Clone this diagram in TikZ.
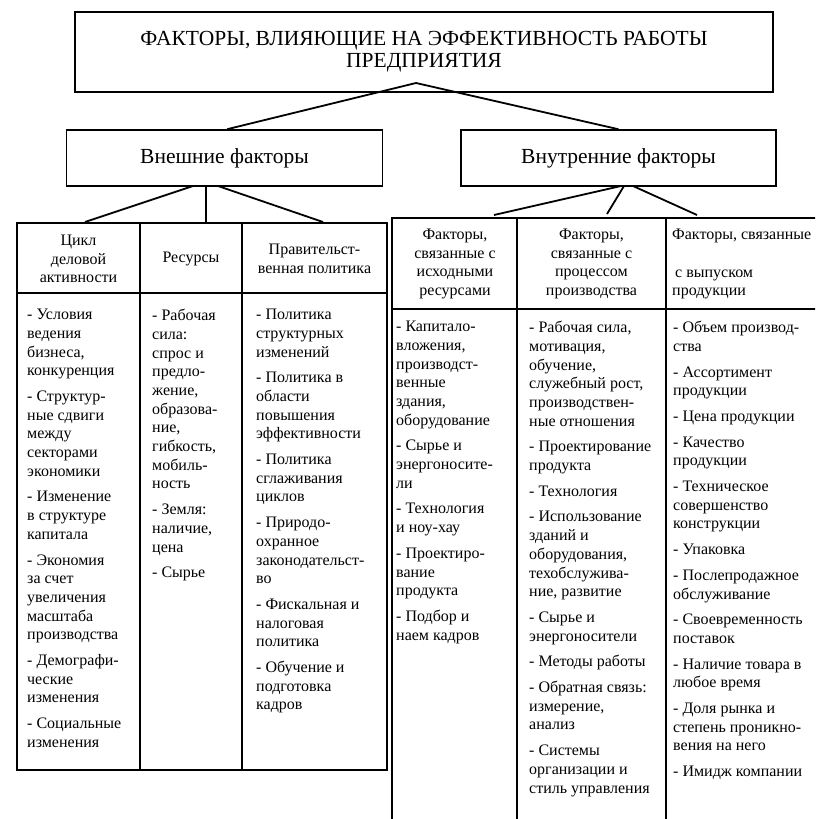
\documentclass[tikz,border=0pt]{standalone}
\usepackage{fontspec}
\setmainfont{Liberation Serif}
\begin{document}
\begin{tikzpicture}[x=1pt,y=-1pt,
  box/.style={draw,line width=1.5pt,inner sep=0pt,align=center,font=\fontsize{21.5}{22}\selectfont},
  conn/.style={line width=1.8pt},
  tline/.style={line width=1.7pt},
  body/.style={anchor=north west,inner sep=0pt,align=left,font=\fontsize{16}{18.7}\selectfont},
  head/.style={inner sep=0pt,align=center,font=\fontsize{16}{18.7}\selectfont}]
\useasboundingbox (0,0) rectangle (815,819);
\clip (0,0) rectangle (815,819);
% top boxes
\node[box,minimum width=698pt,minimum height=80pt] (title) at (424,52)
  {ФАКТОРЫ, ВЛИЯЮЩИЕ НА ЭФФЕКТИВНОСТЬ РАБОТЫ\\ПРЕДПРИЯТИЯ};
\node[box,minimum width=316pt,minimum height=56pt] (ext) at (224.5,158) {Внешние факторы};
\node[box,minimum width=315pt,minimum height=56pt] (int) at (618.5,158) {Внутренние факторы};
\coordinate (apex) at (416,83);
\draw[conn] (ext.north -| 227,0) -- (apex) -- (int.north);
% left table
\draw[tline] (17,223) rectangle (387,770);
\draw[tline] (140,223) -- (140,770) (242,223) -- (242,770) (17,293) -- (387,293);
\coordinate (la) at (85,222); \coordinate (lb) at (206,222); \coordinate (lc) at (323,222);
\draw[conn] (193,186) -- (la);
\draw[conn] (206,186) -- (lb);
\draw[conn] (218,186) -- (lc);
% right table
\draw[tline] (392,218) rectangle (840,850);
\draw[line width=1.4pt] (517,218) -- (517,850) (666,218) -- (666,850);
\draw[line width=1.2pt] (392,309) -- (840,309);
\coordinate (ra) at (494,215); \coordinate (rb) at (607,214); \coordinate (rc) at (697,215);
\draw[conn] (621,186) -- (ra);
\draw[conn] (624,186) -- (rb);
\draw[conn] (633,186) -- (rc);
% left headers
\node[head] (lh1) at (78.5,259) {Цикл\\деловой\\активности};
\node[head] (lh2) at (191,259) {Ресурсы};
\node[head] (lh3) at (314.5,259) {Правительст-\\венная политика};
% right headers
\node[head] (rh1) at (455,264) {Факторы,\\связанные с\\исходными\\ресурсами};
\node[head] (rh2) at (591.5,264) {Факторы,\\связанные с\\процессом\\производства};
\node[body] (rh3) at (672,229) {Факторы, связанные\\[18.7pt]\hspace*{3pt}с выпуском\\продукции};
% left body
\node[body] (lb1) at (27,309) {- Условия\\ведения\\бизнеса,\\конкуренция\\[7pt]
- Структур-\\ные сдвиги\\между\\секторами\\экономики\\[7pt]
- Изменение\\в структуре\\капитала\\[7pt]
- Экономия\\за счет\\увеличения\\масштаба\\производства\\[7pt]
- Демографи-\\ческие\\изменения\\[7pt]
- Социальные\\изменения};
\node[body] (lb2) at (152,309) {- Рабочая\\сила:\\спрос и\\предло-\\жение,\\образова-\\ние,\\гибкость,\\мобиль-\\ность\\[7pt]
- Земля:\\наличие,\\цена\\[7pt]
- Сырье};
\node[body] (lb3) at (256,309) {- Политика\\структурных\\изменений\\[7pt]
- Политика в\\области\\повышения\\эффективности\\[7pt]
- Политика\\сглаживания\\циклов\\[7pt]
- Природо-\\охранное\\законодательст-\\во\\[7pt]
- Фискальная и\\налоговая\\политика\\[7pt]
- Обучение и\\подготовка\\кадров};
% right body
\node[body] (rb1) at (396,321) {- Капитало-\\вложения,\\производст-\\венные\\здания,\\оборудование\\[7pt]
- Сырье и\\энергоносите-\\ли\\[7pt]
- Технология\\и ноу-хау\\[7pt]
- Проектиро-\\вание\\продукта\\[7pt]
- Подбор и\\наем кадров};
\node[body] (rb2) at (529,321) {- Рабочая сила,\\мотивация,\\обучение,\\служебный рост,\\производствен-\\ные отношения\\[7pt]
- Проектирование\\продукта\\[7pt]
- Технология\\[7pt]
- Использование\\зданий и\\оборудования,\\техобслужива-\\ние, развитие\\[7pt]
- Сырье и\\энергоносители\\[7pt]
- Методы работы\\[7pt]
- Обратная связь:\\измерение,\\анализ\\[7pt]
- Системы\\организации и\\стиль управления};
\node[body] (rb3) at (673,321) {- Объем производ-\\ства\\[7pt]
- Ассортимент\\продукции\\[7pt]
- Цена продукции\\[7pt]
- Качество\\продукции\\[7pt]
- Техническое\\совершенство\\конструкции\\[7pt]
- Упаковка\\[7pt]
- Послепродажное\\обслуживание\\[7pt]
- Своевременность\\поставок\\[7pt]
- Наличие товара в\\любое время\\[7pt]
- Доля рынка и\\степень проникно-\\вения на него\\[7pt]
- Имидж компании};
\end{tikzpicture}
\end{document}
